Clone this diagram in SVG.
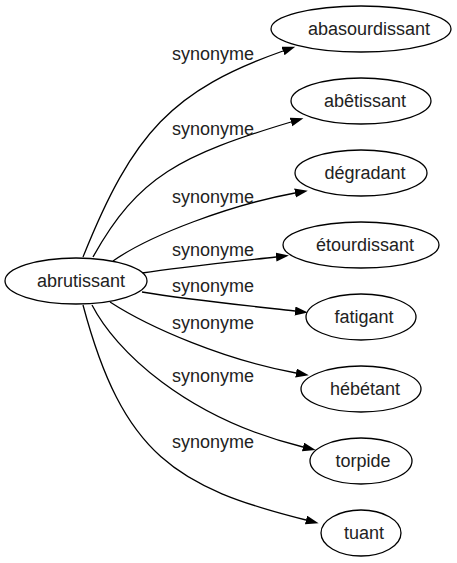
<svg xmlns="http://www.w3.org/2000/svg" width="457" height="563" viewBox="0 0 457 563">
<style>
.node ellipse{fill:#fff;stroke:#000;stroke-width:1.3}
text{font-family:"Liberation Sans",Arial,sans-serif;font-size:18px;fill:#222}
.node text{text-anchor:middle}
.edges path{fill:none;stroke:#000;stroke-width:1.3;marker-end:url(#arr)}
.edges text{text-anchor:middle}
</style>
<defs>
<marker id="arr" markerWidth="14" markerHeight="10" refX="0" refY="4.5" orient="auto" markerUnits="userSpaceOnUse">
<path d="M0,0 L13,4.5 L0,9 z" fill="#000"/>
</marker>
</defs>
<rect width="457" height="563" fill="#fff"/>
<g class="edges">
<path d="M83,257 C133,132 173,90 283,51"/>
<text x="213" y="60">synonyme</text>
<path d="M93,257 C138,176 181,155 291,122"/>
<text x="213" y="135">synonyme</text>
<path d="M113,261 C150,235 230,205 295,193"/>
<text x="213" y="203">synonyme</text>
<path d="M142,273 C180,267 240,261 276,257"/>
<text x="213" y="256">synonyme</text>
<path d="M142,292 C190,300 250,306 295,311"/>
<text x="213" y="292">synonyme</text>
<path d="M110,302 C150,328 225,360 296,373"/>
<text x="213" y="329">synonyme</text>
<path d="M92,305 C115,350 185,418 303,447"/>
<text x="213" y="382">synonyme</text>
<path d="M83,305 C123,455 176,487.5 306,520"/>
<text x="213" y="448">synonyme</text>
</g>
<g id="n0" class="node"><ellipse cx="76" cy="281" rx="71" ry="23"/><text x="81" y="287">abrutissant</text></g>
<g id="n1" class="node"><ellipse cx="361" cy="29" rx="90" ry="23"/><text x="369" y="35">abasourdissant</text></g>
<g id="n2" class="node"><ellipse cx="361" cy="101" rx="70" ry="23"/><text x="365" y="107">abêtissant</text></g>
<g id="n3" class="node"><ellipse cx="361" cy="173" rx="66" ry="23"/><text x="365" y="179">dégradant</text></g>
<g id="n4" class="node"><ellipse cx="361" cy="245" rx="78" ry="23"/><text x="365" y="251">étourdissant</text></g>
<g id="n5" class="node"><ellipse cx="361" cy="317" rx="55" ry="23"/><text x="364" y="323">fatigant</text></g>
<g id="n6" class="node"><ellipse cx="361" cy="389" rx="60" ry="23"/><text x="365" y="395">hébétant</text></g>
<g id="n7" class="node"><ellipse cx="361" cy="461" rx="51" ry="23"/><text x="363" y="467">torpide</text></g>
<g id="n8" class="node"><ellipse cx="361" cy="533" rx="40" ry="23"/><text x="364" y="539">tuant</text></g>
</svg>
